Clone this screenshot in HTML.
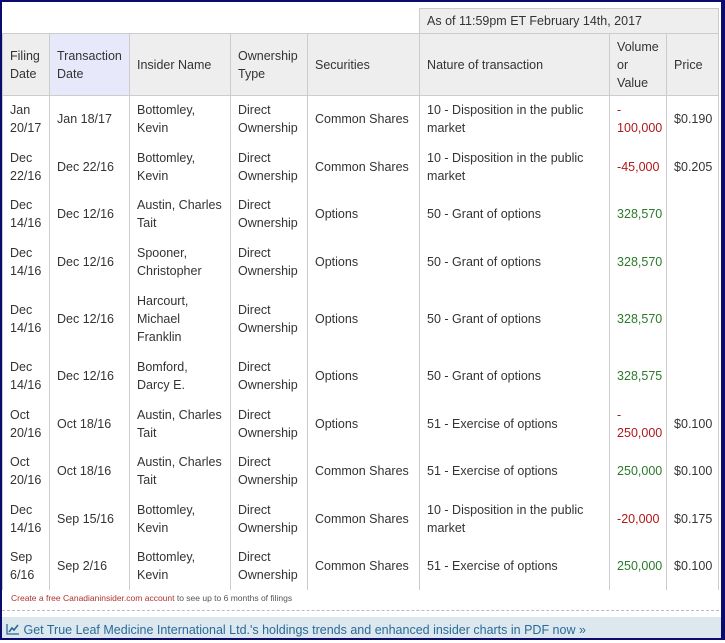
<!DOCTYPE html>
<html><head><style>
*{margin:0;padding:0;box-sizing:border-box}
body{width:725px;height:640px;background:#fff;font-family:"Liberation Sans",sans-serif;font-size:12.5px;color:#333;position:relative;overflow:hidden}
.frame{position:absolute;left:0;top:0;width:725px;height:640px;border:2px solid #0b0b6e;border-right-width:4px}
table{position:absolute;left:2px;top:8px;border-collapse:collapse;table-layout:fixed;width:716px}
td{border-left:1px solid #ccc;border-right:1px solid #ccc;padding:0 7px;vertical-align:middle;line-height:18px;font-size:12.5px;white-space:nowrap;overflow:hidden}
tr.h td{background:#eee;border-top:1px solid #ccc;border-bottom:1px solid #ccc}
td.tx{background:#e8e8fb !important}
.r{color:#b01818}.g{color:#2a7a2a}
.foot{position:absolute;left:11px;top:593px;font-size:8.5px;color:#555}
.foot span{color:#b03030}
.dash{position:absolute;left:2px;top:610px;width:717px;border-top:1px dashed #bbb}
.bar{position:absolute;left:2px;top:617px;width:719px;height:21px;background:#dde8ee;color:#2a6a9a;font-size:12.5px;padding-left:4px;line-height:26px}
</style></head><body>
<table>
<colgroup><col style="width:47px"><col style="width:80px"><col style="width:101px"><col style="width:77px"><col style="width:112px"><col style="width:190px"><col style="width:57px"><col style="width:52px"></colgroup>
<tr style="height:25px"><td colspan="5" style="border:none"></td><td colspan="3" style="background:#eee;border:1px solid #ccc">As of 11:59pm ET February 14th, 2017</td></tr>
<tr class="h" style="height:62px"><td>Filing<br>Date</td><td class="tx">Transaction<br>Date</td><td>Insider Name</td><td>Ownership<br>Type</td><td>Securities</td><td>Nature of transaction</td><td>Volume<br>or<br>Value</td><td>Price</td></tr>
<tr style="height:47px"><td>Jan<br>20/17</td><td>Jan 18/17</td><td>Bottomley,<br>Kevin</td><td>Direct<br>Ownership</td><td>Common Shares</td><td>10 - Disposition in the public<br>market</td><td class="r">-<br>100,000</td><td>$0.190</td></tr>
<tr style="height:48px"><td>Dec<br>22/16</td><td>Dec 22/16</td><td>Bottomley,<br>Kevin</td><td>Direct<br>Ownership</td><td>Common Shares</td><td>10 - Disposition in the public<br>market</td><td class="r">-45,000</td><td>$0.205</td></tr>
<tr style="height:47px"><td>Dec<br>14/16</td><td>Dec 12/16</td><td>Austin, Charles<br>Tait</td><td>Direct<br>Ownership</td><td>Options</td><td>50 - Grant of options</td><td class="g">328,570</td><td></td></tr>
<tr style="height:48px"><td>Dec<br>14/16</td><td>Dec 12/16</td><td>Spooner,<br>Christopher</td><td>Direct<br>Ownership</td><td>Options</td><td>50 - Grant of options</td><td class="g">328,570</td><td></td></tr>
<tr style="height:67px"><td>Dec<br>14/16</td><td>Dec 12/16</td><td>Harcourt,<br>Michael<br>Franklin</td><td>Direct<br>Ownership</td><td>Options</td><td>50 - Grant of options</td><td class="g">328,570</td><td></td></tr>
<tr style="height:47px"><td>Dec<br>14/16</td><td>Dec 12/16</td><td>Bomford,<br>Darcy E.</td><td>Direct<br>Ownership</td><td>Options</td><td>50 - Grant of options</td><td class="g">328,575</td><td></td></tr>
<tr style="height:48px"><td>Oct<br>20/16</td><td>Oct 18/16</td><td>Austin, Charles<br>Tait</td><td>Direct<br>Ownership</td><td>Options</td><td>51 - Exercise of options</td><td class="r">-<br>250,000</td><td>$0.100</td></tr>
<tr style="height:47px"><td>Oct<br>20/16</td><td>Oct 18/16</td><td>Austin, Charles<br>Tait</td><td>Direct<br>Ownership</td><td>Common Shares</td><td>51 - Exercise of options</td><td class="g">250,000</td><td>$0.100</td></tr>
<tr style="height:48px"><td>Dec<br>14/16</td><td>Sep 15/16</td><td>Bottomley,<br>Kevin</td><td>Direct<br>Ownership</td><td>Common Shares</td><td>10 - Disposition in the public<br>market</td><td class="r">-20,000</td><td>$0.175</td></tr>
<tr style="height:47px"><td>Sep<br>6/16</td><td>Sep 2/16</td><td>Bottomley,<br>Kevin</td><td>Direct<br>Ownership</td><td>Common Shares</td><td>51 - Exercise of options</td><td class="g">250,000</td><td>$0.100</td></tr>
</table>
<div class="foot"><span>Create a free Canadianinsider.com account</span> to see up to 6 months of filings</div>
<div class="dash"></div>
<div class="bar"><svg width="14" height="12" style="vertical-align:-1px"><path d="M1 1V11H13" fill="none" stroke="#2a6a9a" stroke-width="1.3"/><path d="M3 9L6 5L8 7L12 2" fill="none" stroke="#2a6a9a" stroke-width="1.6"/></svg> Get True Leaf Medicine International Ltd.'s holdings trends and enhanced insider charts in PDF now »</div>
<div class="frame"></div>
</body></html>
